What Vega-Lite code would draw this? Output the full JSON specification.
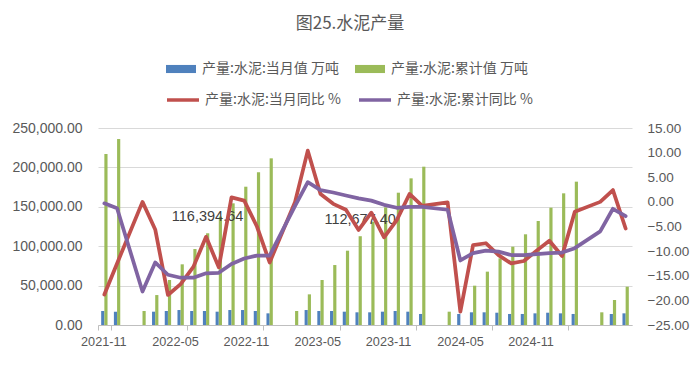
{
  "$schema": "https://vega.github.io/schema/vega-lite/v6.json",
  "width": 534,
  "height": 197,
  "autosize": {"type": "none"},
  "padding": {"left": 98, "top": 128, "right": 68, "bottom": 41},
  "background": "white",
  "title": {"text": "图25.水泥产量", "fontSize": 17, "color": "#595959", "font": "Noto Sans CJK SC", "fontWeight": "normal", "anchor": "middle", "dx": -15, "offset": 21},
  "config": {"view": {"stroke": null}},
  "data": {"values": [
    {"month": "2021-11", "cur": 17800, "cum": 217000, "cur_yoy": -18.8, "cum_yoy": -0.3},
    {"month": "2021-12", "cur": 16900, "cum": 236000, "cur_yoy": -12.5, "cum_yoy": -1.3},
    {"month": "2022-01", "cur": null, "cum": null, "cur_yoy": null, "cum_yoy": null},
    {"month": "2022-02", "cur": null, "cum": 17800, "cur_yoy": 0.0, "cum_yoy": -18.2},
    {"month": "2022-03", "cur": 16900, "cum": 38000, "cur_yoy": -5.6, "cum_yoy": -12.3},
    {"month": "2022-04", "cur": 17800, "cum": 57100, "cur_yoy": -18.9, "cum_yoy": -14.8},
    {"month": "2022-05", "cur": 19000, "cum": 77000, "cur_yoy": -16.7, "cum_yoy": -15.4},
    {"month": "2022-06", "cur": 17800, "cum": 96400, "cur_yoy": -13.2, "cum_yoy": -15.4},
    {"month": "2022-07", "cur": 17800, "cum": 116394.64, "cur_yoy": -7.1, "cum_yoy": -14.5},
    {"month": "2022-08", "cur": 16900, "cum": 137500, "cur_yoy": -13.3, "cum_yoy": -14.4},
    {"month": "2022-09", "cur": 19000, "cum": 154400, "cur_yoy": 0.9, "cum_yoy": -12.6},
    {"month": "2022-10", "cur": 19000, "cum": 175500, "cur_yoy": 0.25, "cum_yoy": -11.5},
    {"month": "2022-11", "cur": 17800, "cum": 193800, "cur_yoy": -5.0, "cum_yoy": -10.9},
    {"month": "2022-12", "cur": 14800, "cum": 211500, "cur_yoy": -12.3, "cum_yoy": -10.9},
    {"month": "2023-01", "cur": null, "cum": null, "cur_yoy": null, "cum_yoy": null},
    {"month": "2023-02", "cur": null, "cum": 17800, "cur_yoy": 0.0, "cum_yoy": -0.8},
    {"month": "2023-03", "cur": 19000, "cum": 38900, "cur_yoy": 10.4, "cum_yoy": 4.0},
    {"month": "2023-04", "cur": 17800, "cum": 57100, "cur_yoy": 1.6, "cum_yoy": 2.4},
    {"month": "2023-05", "cur": 17800, "cum": 76100, "cur_yoy": -0.4, "cum_yoy": 1.9},
    {"month": "2023-06", "cur": 16900, "cum": 94300, "cur_yoy": -1.6, "cum_yoy": 1.3},
    {"month": "2023-07", "cur": 16100, "cum": 112677.40, "cur_yoy": -5.7, "cum_yoy": 0.7},
    {"month": "2023-08", "cur": 16100, "cum": 131100, "cur_yoy": -2.2, "cum_yoy": 0.25},
    {"month": "2023-09", "cur": 16900, "cum": 149300, "cur_yoy": -7.2, "cum_yoy": -0.6},
    {"month": "2023-10", "cur": 17800, "cum": 167900, "cur_yoy": -3.7, "cum_yoy": -1.2},
    {"month": "2023-11", "cur": 16900, "cum": 186100, "cur_yoy": 1.6, "cum_yoy": -1.0},
    {"month": "2023-12", "cur": 14000, "cum": 200900, "cur_yoy": -0.8, "cum_yoy": -1.0},
    {"month": "2024-01", "cur": null, "cum": null, "cur_yoy": null, "cum_yoy": null},
    {"month": "2024-02", "cur": null, "cum": 16900, "cur_yoy": -0.1, "cum_yoy": -1.6},
    {"month": "2024-03", "cur": 14000, "cum": null, "cur_yoy": -22.3, "cum_yoy": -11.9},
    {"month": "2024-04", "cur": 16100, "cum": 49900, "cur_yoy": -8.8, "cum_yoy": -10.4},
    {"month": "2024-05", "cur": 16100, "cum": 67700, "cur_yoy": -8.4, "cum_yoy": -9.9},
    {"month": "2024-06", "cur": 15600, "cum": 84600, "cur_yoy": -10.8, "cum_yoy": -10.1},
    {"month": "2024-07", "cur": 14000, "cum": 99400, "cur_yoy": -12.5, "cum_yoy": -10.8},
    {"month": "2024-08", "cur": 14000, "cum": 115100, "cur_yoy": -12.0, "cum_yoy": -10.8},
    {"month": "2024-09", "cur": 14800, "cum": 132000, "cur_yoy": -9.9, "cum_yoy": -10.6},
    {"month": "2024-10", "cur": 15600, "cum": 148900, "cur_yoy": -7.9, "cum_yoy": -10.4},
    {"month": "2024-11", "cur": 14800, "cum": 167100, "cur_yoy": -11.0, "cum_yoy": -10.3},
    {"month": "2024-12", "cur": 14000, "cum": 181900, "cur_yoy": -2.0, "cum_yoy": -9.4},
    {"month": "2025-01", "cur": null, "cum": null, "cur_yoy": null, "cum_yoy": null},
    {"month": "2025-02", "cur": null, "cum": 16100, "cur_yoy": 0.0, "cum_yoy": -6.0},
    {"month": "2025-03", "cur": 14000, "cum": 31700, "cur_yoy": 2.4, "cum_yoy": -1.4},
    {"month": "2025-04", "cur": 14800, "cum": 48600, "cur_yoy": -5.4, "cum_yoy": -2.9}
  ]},
  "encoding": {
    "x": {
      "field": "month", "type": "ordinal",
      "scale": {"domain": ["2021-11","2021-12","2022-01","2022-02","2022-03","2022-04","2022-05","2022-06","2022-07","2022-08","2022-09","2022-10","2022-11","2022-12","2023-01","2023-02","2023-03","2023-04","2023-05","2023-06","2023-07","2023-08","2023-09","2023-10","2023-11","2023-12","2024-01","2024-02","2024-03","2024-04","2024-05","2024-06","2024-07","2024-08","2024-09","2024-10","2024-11","2024-12","2025-01","2025-02","2025-03","2025-04"], "paddingInner": 0, "paddingOuter": 0},
      "axis": {
        "values": ["2021-11","2022-05","2022-11","2023-05","2023-11","2024-05","2024-11"],
        "tickBand": "extent", "title": null, "labelAngle": 0, "grid": false,
        "labelFont": "Liberation Sans", "labelFontSize": 12.7, "labelColor": "#595959",
        "domainColor": "#bfbfbf", "tickColor": "#bfbfbf", "tickSize": 5, "labelPadding": 5,
        "labelOverlap": false,
        "labelOffset": {"condition": [
          {"test": "datum.value === '2022-05'", "value": -5.6},
          {"test": "datum.value === '2022-11'", "value": -11},
          {"test": "datum.value === '2023-05'", "value": -16},
          {"test": "datum.value === '2023-11'", "value": -21.4},
          {"test": "datum.value === '2024-05'", "value": -25.7},
          {"test": "datum.value === '2024-11'", "value": -31.5}
        ], "value": -1}
      }
    }
  },
  "layer": [
    {
      "layer": [
        {
          "transform": [{"fold": ["cur", "cum"], "as": ["series", "value"]}],
          "mark": {"type": "bar"},
          "encoding": {
            "y": {"field": "value", "type": "quantitative", "scale": {"domain": [0, 250000], "nice": false},
              "axis": {"title": null, "values": [0, 50000, 100000, 150000, 200000, 250000], "format": ",.2f", "grid": true, "gridColor": "#d9d9d9", "domain": false, "ticks": false, "tickSize": 0, "labelPadding": 16, "labelOverlap": false, "labelFont": "Liberation Sans", "labelFontSize": 14, "labelColor": "#595959"}},
            "xOffset": {"field": "series", "type": "nominal", "scale": {"domain": ["cur", "cum"], "paddingInner": 0, "paddingOuter": 1.27}},
            "fill": {"field": "series", "type": "nominal",
              "scale": {"domain": ["cur", "cum"], "range": ["#4F81BD", "#9BBB59"]},
              "legend": {"orient": "none", "legendX": 68, "legendY": -74, "direction": "horizontal", "title": null, "padding": 0,
                "symbolType": "M-1,-0.27H1V0.27H-1Z", "symbolSize": 900, "symbolStrokeWidth": 0,
                "labelFont": "Noto Sans CJK SC", "labelFontSize": 14, "labelColor": "#595959", "labelOffset": 6, "columnPadding": 16, "labelLimit": 300,
                "labelExpr": "datum.value == 'cur' ? '产量:水泥:当月值 万吨' : '产量:水泥:累计值 万吨'"}}
          }
        },
        {
          "transform": [{"filter": {"field": "month", "oneOf": ["2022-07", "2023-07"]}}],
          "mark": {"type": "text", "dy": -16, "dx": 1.5, "font": "Liberation Sans", "fontSize": 14.5, "color": "#404040"},
          "encoding": {
            "y": {"field": "cum", "type": "quantitative", "scale": {"domain": [0, 250000], "nice": false},
              "axis": {"title": null, "values": [0, 50000, 100000, 150000, 200000, 250000], "format": ",.2f", "grid": true, "gridColor": "#d9d9d9", "domain": false, "ticks": false, "tickSize": 0, "labelPadding": 16, "labelOverlap": false, "labelFont": "Liberation Sans", "labelFontSize": 14, "labelColor": "#595959"}},
            "text": {"field": "cum", "type": "quantitative", "format": ",.2f"}
          }
        }
      ]
    },
    {
      "transform": [{"fold": ["cur_yoy", "cum_yoy"], "as": ["series", "value"]}, {"filter": "isValid(datum.value)"}],
      "mark": {"type": "line", "strokeWidth": 3.75, "strokeJoin": "round", "strokeCap": "round"},
      "encoding": {
        "y": {"field": "value", "type": "quantitative", "scale": {"domain": [-25, 15], "nice": false},
          "axis": {"orient": "right", "title": null, "values": [-25, -20, -15, -10, -5, 0, 5, 10, 15], "format": ".2f", "grid": false, "domain": false, "ticks": false, "tickSize": 0, "labelPadding": 15, "labelOverlap": false, "labelFont": "Liberation Sans", "labelFontSize": 13.5, "labelColor": "#595959"}},
        "stroke": {"field": "series", "type": "nominal",
          "scale": {"domain": ["cur_yoy", "cum_yoy"], "range": ["#C0504D", "#8064A2"]},
          "legend": {"orient": "none", "legendX": 67, "legendY": -46, "direction": "horizontal", "title": null, "padding": 0,
            "symbolType": "stroke", "symbolSize": 1024, "symbolStrokeWidth": 3.5,
            "labelFont": "Noto Sans CJK SC", "labelFontSize": 14, "labelColor": "#595959", "labelOffset": 4, "columnPadding": 11, "labelLimit": 300,
            "labelExpr": "datum.value == 'cur_yoy' ? '产量:水泥:当月同比 %' : '产量:水泥:累计同比 %'"}}
      }
    }
  ],
  "resolve": {"scale": {"y": "independent"}}
}
